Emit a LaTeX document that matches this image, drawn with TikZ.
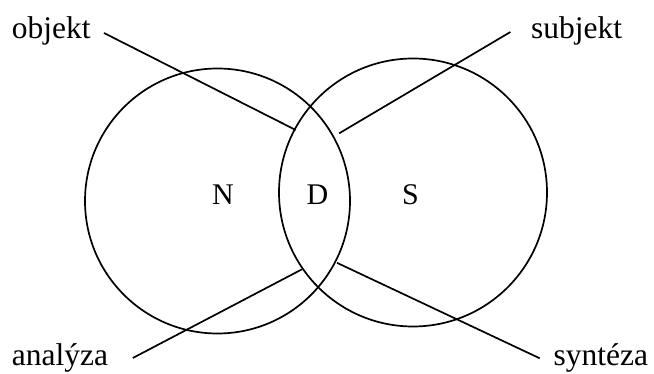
\documentclass[tikz,border=0pt]{standalone}
\usepackage{fontspec}
\setmainfont{Liberation Serif}
\begin{document}
\begin{tikzpicture}[x=1pt,y=-1pt,line width=1.7pt,
  lbl/.style={inner sep=0pt,font=\fontsize{31.5}{34}\selectfont},
  region/.style={inner sep=0pt,anchor=base,font=\fontsize{30}{32}\selectfont},
  ring/.style={circle,draw,inner sep=0pt}]
\useasboundingbox (0,0) rectangle (654,374);
\node[ring,minimum size=265pt] (L) at (217.5,201) {};
\node[ring,minimum size=268pt] (R) at (413,192.5) {};
\node[region] (N) at (223,205) {N};
\node[region] (D) at (317.5,205) {D};
\node[region] (S) at (410.5,205) {S};
\node[lbl,anchor=base west] (obj) at (11,39) {objekt};
\node[lbl,anchor=base east] (sub) at (623,39) {subjekt};
\node[lbl,anchor=base west] (ana) at (11,366) {analýza};
\node[lbl,anchor=base east] (syn) at (649,366) {syntéza};
\coordinate (o1) at (104,33);
\coordinate (o2) at (295.7,130);
\coordinate (s1) at (510.4,32);
\coordinate (s2) at (339.2,133.3);
\coordinate (a1) at (132.8,358);
\coordinate (a2) at (302,269.3);
\coordinate (y1) at (337,262.8);
\coordinate (y2) at (539.7,358.3);
\draw (o1) -- (o2);
\draw (s1) -- (s2);
\draw (a1) -- (a2);
\draw (y1) -- (y2);
\end{tikzpicture}
\end{document}
